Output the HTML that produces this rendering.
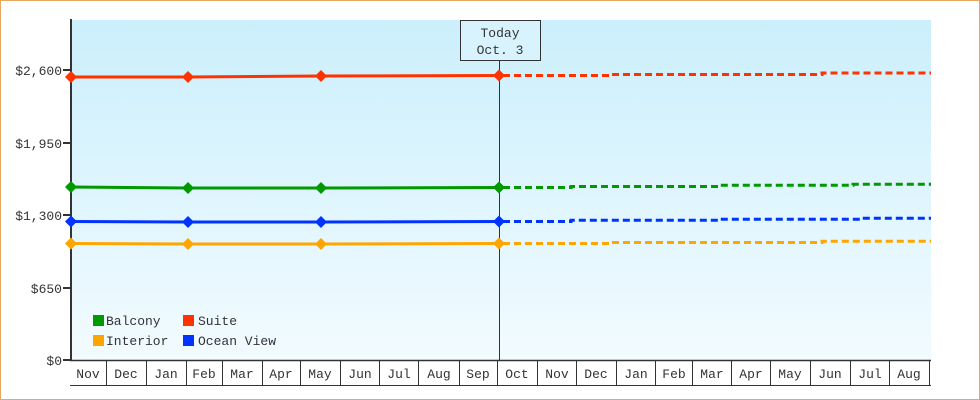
<!DOCTYPE html>
<html><head><meta charset="utf-8"><style>
html,body{margin:0;padding:0;background:#fff}
svg{display:block}
text{font-family:"Liberation Mono","DejaVu Sans Mono",monospace;font-size:13px;fill:#333}
</style></head><body>
<svg width="980" height="400" viewBox="0 0 980 400">
<defs><linearGradient id="g" x1="0" y1="0" x2="0" y2="1"><stop offset="0" stop-color="#cbeffc"/><stop offset="1" stop-color="#f2fbff"/></linearGradient></defs>
<rect x="0.5" y="0.5" width="979" height="399" fill="#fff" stroke="#e8a860"/>
<rect x="72" y="20" width="859" height="340" fill="url(#g)"/>
<line x1="71" y1="19" x2="71" y2="361" stroke="#333" stroke-width="2"/>
<g stroke="#333" stroke-width="2">
<line x1="63" y1="70" x2="71" y2="70"/><line x1="63" y1="143" x2="71" y2="143"/><line x1="63" y1="215" x2="71" y2="215"/><line x1="63" y1="288" x2="71" y2="288"/><line x1="63" y1="360" x2="71" y2="360"/>
</g>
<g text-anchor="end">
<text x="62" y="75">$2,600</text><text x="62" y="148">$1,950</text><text x="62" y="220">$1,300</text><text x="62" y="293">$650</text><text x="62" y="365">$0</text>
</g>
<line x1="499.5" y1="60" x2="499.5" y2="360" stroke="#333" stroke-width="1"/>
<rect x="460.5" y="20.5" width="80" height="40" fill="#d8f3fd" stroke="#333"/>
<text x="500" y="37" text-anchor="middle">Today</text>
<text x="500" y="54" text-anchor="middle">Oct. 3</text>
<g stroke-width="3" fill="none">
<polyline stroke="#ff3300" points="71,77 188,77 321,76 499,75.5"/>
<polyline stroke="#009900" points="71,187 188,188 321,188 499,187.5"/>
<polyline stroke="#0033ff" points="71,221.5 188,222 321,222 499,221.5"/>
<polyline stroke="#ffa500" points="71,243.5 188,244 321,244 499,243.5"/>
</g>
<g stroke-width="3" fill="none" stroke-dasharray="7,4">
<polyline stroke="#ff3300" points="503,75.5 609,75.5 609,74.5 822,74.5 822,73 931,73"/>
<polyline stroke="#009900" points="503,187.5 571,187.5 571,186.5 720,186.5 720,185.3 853,185.3 853,184.3 931,184.3"/>
<polyline stroke="#0033ff" points="503,221.5 571,221.5 571,220.3 720,220.3 720,219.3 860,219.3 860,218.3 931,218.3"/>
<polyline stroke="#ffa500" points="503,243.5 609,243.5 609,242.5 822,242.5 822,241.3 931,241.3"/>
</g>
<g>
<g fill="#ff3300"><path d="M71,71l6,6-6,6-6-6z"/><path d="M188,71l6,6-6,6-6-6z"/><path d="M321,70l6,6-6,6-6-6z"/><path d="M499,69.5l6,6-6,6-6-6z"/></g>
<g fill="#009900"><path d="M71,181l6,6-6,6-6-6z"/><path d="M188,182l6,6-6,6-6-6z"/><path d="M321,182l6,6-6,6-6-6z"/><path d="M499,181.5l6,6-6,6-6-6z"/></g>
<g fill="#0033ff"><path d="M71,215.5l6,6-6,6-6-6z"/><path d="M188,216l6,6-6,6-6-6z"/><path d="M321,216l6,6-6,6-6-6z"/><path d="M499,215.5l6,6-6,6-6-6z"/></g>
<g fill="#ffa500"><path d="M71,237.5l6,6-6,6-6-6z"/><path d="M188,238l6,6-6,6-6-6z"/><path d="M321,238l6,6-6,6-6-6z"/><path d="M499,237.5l6,6-6,6-6-6z"/></g>
</g>
<rect x="93" y="315" width="11" height="11" fill="#009900"/><text x="106" y="325">Balcony</text>
<rect x="183" y="315" width="11" height="11" fill="#ff3300"/><text x="198" y="325">Suite</text>
<rect x="93" y="335" width="11" height="11" fill="#ffa500"/><text x="106" y="345">Interior</text>
<rect x="183" y="335" width="11" height="11" fill="#0033ff"/><text x="198" y="345">Ocean View</text>
<rect x="71" y="360" width="860" height="25" fill="#fff"/>
<line x1="70" y1="360.5" x2="931" y2="360.5" stroke="#333" stroke-width="1.5"/>
<line x1="70" y1="385.5" x2="931" y2="385.5" stroke="#333"/>
<g stroke="#333">
<line x1="106.5" y1="360" x2="106.5" y2="385"/><line x1="146.5" y1="360" x2="146.5" y2="385"/><line x1="186.5" y1="360" x2="186.5" y2="385"/><line x1="222.5" y1="360" x2="222.5" y2="385"/><line x1="262.5" y1="360" x2="262.5" y2="385"/><line x1="300.5" y1="360" x2="300.5" y2="385"/><line x1="340.5" y1="360" x2="340.5" y2="385"/><line x1="379.5" y1="360" x2="379.5" y2="385"/><line x1="418.5" y1="360" x2="418.5" y2="385"/><line x1="459.5" y1="360" x2="459.5" y2="385"/><line x1="497.5" y1="360" x2="497.5" y2="385"/><line x1="537.5" y1="360" x2="537.5" y2="385"/><line x1="576.5" y1="360" x2="576.5" y2="385"/><line x1="616.5" y1="360" x2="616.5" y2="385"/><line x1="655.5" y1="360" x2="655.5" y2="385"/><line x1="692.5" y1="360" x2="692.5" y2="385"/><line x1="731.5" y1="360" x2="731.5" y2="385"/><line x1="770.5" y1="360" x2="770.5" y2="385"/><line x1="810.5" y1="360" x2="810.5" y2="385"/><line x1="850.5" y1="360" x2="850.5" y2="385"/><line x1="889.5" y1="360" x2="889.5" y2="385"/><line x1="929.5" y1="360" x2="929.5" y2="385"/>
</g>
<g text-anchor="middle">
<text x="88" y="378">Nov</text><text x="126" y="378">Dec</text><text x="166" y="378">Jan</text><text x="204" y="378">Feb</text><text x="242" y="378">Mar</text><text x="281" y="378">Apr</text><text x="320" y="378">May</text><text x="360" y="378">Jun</text><text x="399" y="378">Jul</text><text x="439" y="378">Aug</text><text x="478" y="378">Sep</text><text x="517" y="378">Oct</text><text x="557" y="378">Nov</text><text x="596" y="378">Dec</text><text x="636" y="378">Jan</text><text x="674" y="378">Feb</text><text x="712" y="378">Mar</text><text x="751" y="378">Apr</text><text x="790" y="378">May</text><text x="830" y="378">Jun</text><text x="870" y="378">Jul</text><text x="909" y="378">Aug</text>
</g>
</svg>
</body></html>
